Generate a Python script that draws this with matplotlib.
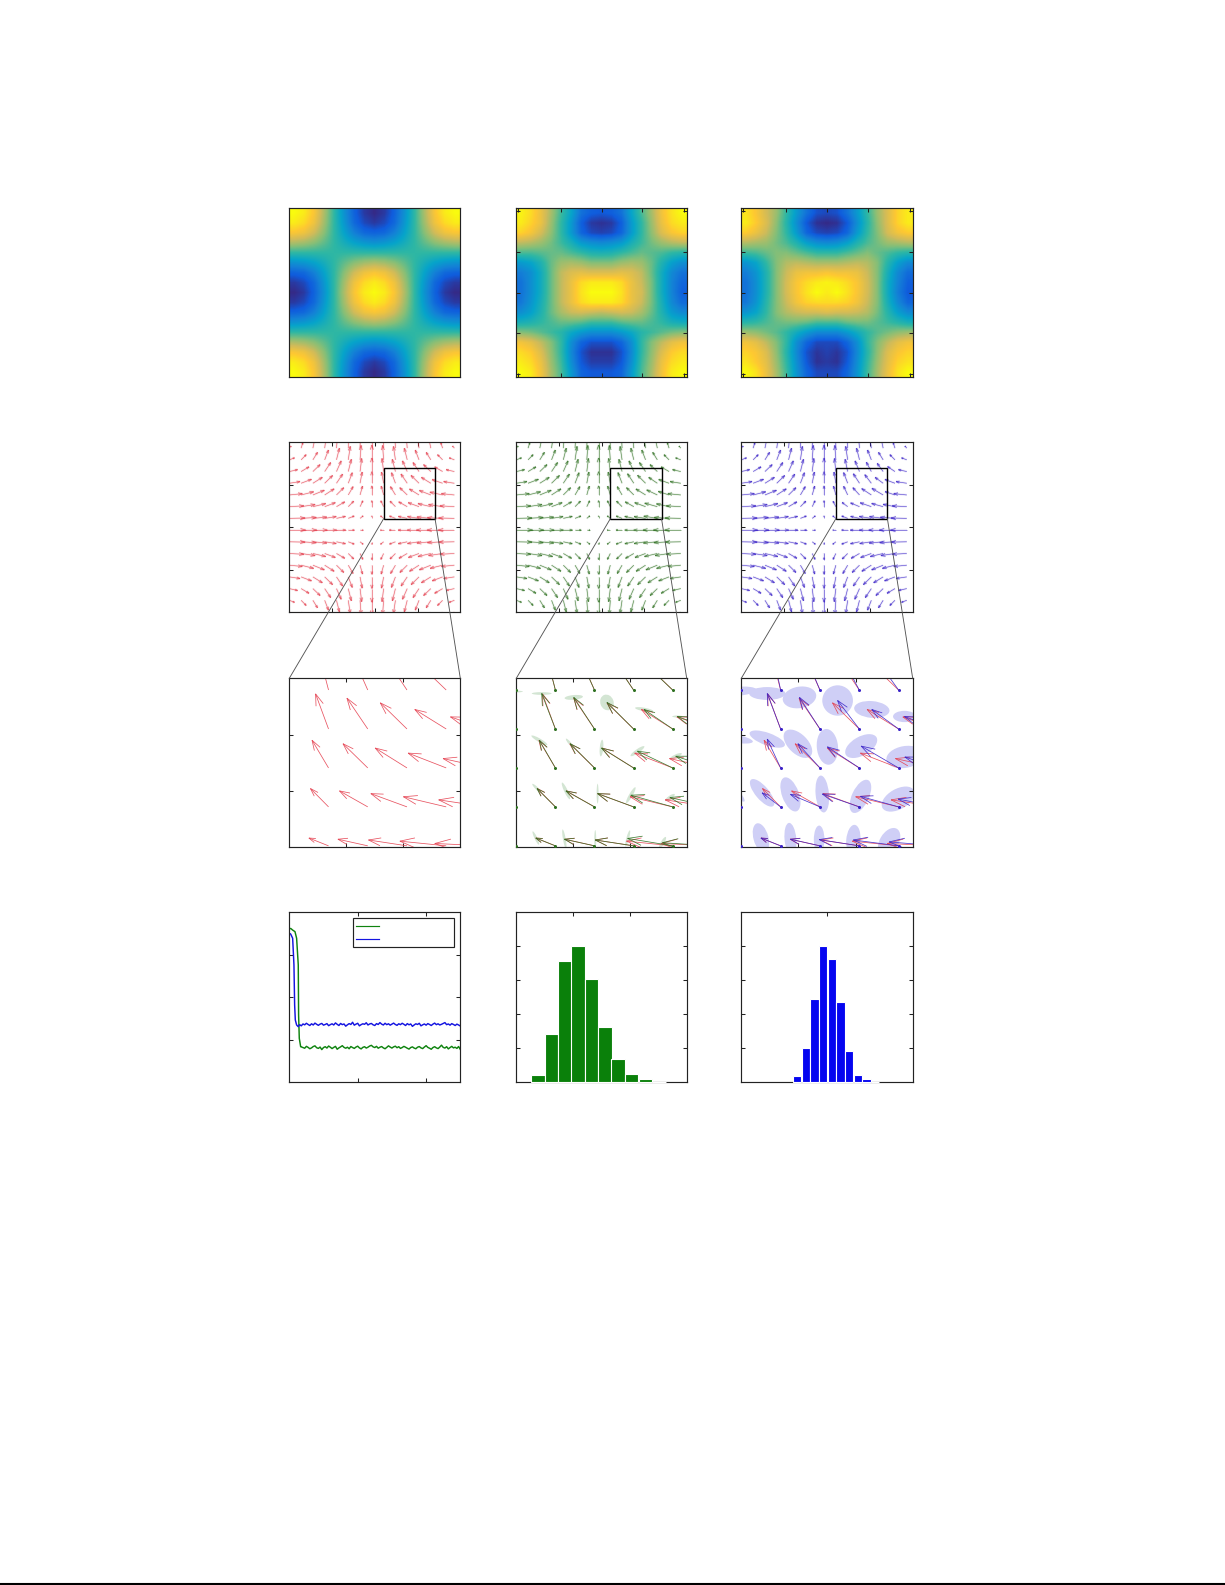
import matplotlib
matplotlib.use("Agg")
import matplotlib.pyplot as plt
import numpy as np

from matplotlib.collections import LineCollection
from matplotlib.colors import LinearSegmentedColormap
from matplotlib.lines import Line2D
from matplotlib.patches import ConnectionPatch, Ellipse, Rectangle

# scalar maps, 0-100, top row first
map_true = [
    [100, 96, 86, 69, 50, 31, 15, 4, 0, 4, 15, 31, 50, 69, 86, 96, 100],
    [96, 92, 83, 67, 50, 33, 17, 8, 4, 8, 17, 33, 50, 67, 83, 92, 96],
    [86, 83, 75, 63, 50, 37, 25, 17, 15, 17, 25, 37, 50, 63, 75, 83, 86],
    [69, 67, 63, 57, 50, 43, 37, 33, 31, 33, 37, 43, 50, 57, 63, 67, 69],
    [50, 50, 50, 50, 50, 50, 50, 50, 50, 50, 50, 50, 50, 50, 50, 50, 50],
    [31, 33, 37, 43, 50, 57, 63, 67, 69, 67, 63, 57, 50, 43, 37, 33, 31],
    [15, 17, 25, 37, 50, 63, 75, 83, 86, 83, 75, 63, 50, 37, 25, 17, 15],
    [4, 8, 17, 33, 50, 67, 83, 92, 96, 92, 83, 67, 50, 33, 17, 8, 4],
    [0, 4, 15, 31, 50, 69, 86, 96, 100, 96, 86, 69, 50, 31, 15, 4, 0],
    [4, 8, 17, 33, 50, 67, 83, 92, 96, 92, 83, 67, 50, 33, 17, 8, 4],
    [15, 17, 25, 37, 50, 63, 75, 83, 86, 83, 75, 63, 50, 37, 25, 17, 15],
    [31, 33, 37, 43, 50, 57, 63, 67, 69, 67, 63, 57, 50, 43, 37, 33, 31],
    [50, 50, 50, 50, 50, 50, 50, 50, 50, 50, 50, 50, 50, 50, 50, 50, 50],
    [69, 67, 63, 57, 50, 43, 37, 33, 31, 33, 37, 43, 50, 57, 63, 67, 69],
    [86, 83, 75, 63, 50, 37, 25, 17, 15, 17, 25, 37, 50, 63, 75, 83, 86],
    [96, 92, 83, 67, 50, 33, 17, 8, 4, 8, 17, 33, 50, 67, 83, 92, 96],
    [100, 96, 86, 69, 50, 31, 15, 4, 0, 4, 15, 31, 50, 69, 86, 96, 100],
]
map_green = [
    [98, 92, 82, 68, 52, 38, 20, 14, 12, 14, 20, 38, 54, 68, 84, 94, 100],
    [96, 90, 82, 66, 50, 34, 14, 4, 2, 4, 14, 34, 50, 66, 82, 92, 96],
    [90, 85, 76, 64, 50, 34, 16, 8, 6, 8, 16, 34, 50, 64, 78, 86, 90],
    [72, 70, 66, 60, 52, 44, 34, 30, 28, 30, 34, 44, 52, 60, 66, 70, 72],
    [54, 54, 56, 58, 58, 54, 50, 46, 45, 46, 50, 54, 58, 56, 54, 50, 48],
    [34, 38, 46, 58, 66, 68, 66, 62, 62, 62, 66, 68, 66, 58, 46, 36, 30],
    [24, 30, 42, 58, 72, 78, 80, 78, 78, 78, 80, 78, 72, 58, 42, 28, 20],
    [20, 30, 42, 58, 72, 82, 92, 96, 96, 96, 92, 82, 74, 60, 42, 26, 16],
    [20, 30, 42, 58, 72, 82, 94, 100, 100, 100, 94, 82, 76, 60, 42, 26, 14],
    [22, 32, 44, 58, 72, 82, 92, 96, 96, 96, 92, 82, 74, 60, 44, 28, 18],
    [30, 36, 46, 58, 68, 74, 76, 74, 72, 74, 76, 74, 68, 58, 46, 34, 28],
    [44, 46, 50, 54, 58, 58, 56, 52, 52, 52, 56, 58, 58, 54, 50, 44, 42],
    [62, 60, 56, 52, 48, 40, 34, 30, 30, 30, 34, 40, 48, 52, 56, 60, 62],
    [84, 80, 72, 62, 50, 30, 16, 10, 10, 10, 16, 30, 50, 62, 72, 80, 84],
    [92, 88, 78, 64, 50, 28, 10, 2, 2, 2, 10, 28, 50, 64, 78, 88, 92],
    [96, 92, 82, 66, 52, 30, 12, 5, 5, 5, 12, 30, 52, 66, 82, 92, 96],
    [100, 96, 84, 68, 54, 34, 16, 12, 12, 12, 16, 34, 54, 68, 84, 96, 100],
]
map_blue = [
    [94, 86, 76, 66, 50, 34, 20, 10, 8, 10, 20, 34, 50, 66, 78, 90, 96],
    [96, 88, 78, 64, 48, 30, 12, 2, 0, 2, 12, 30, 48, 64, 78, 90, 96],
    [88, 82, 74, 62, 50, 34, 16, 8, 6, 8, 16, 34, 50, 62, 76, 84, 88],
    [70, 68, 66, 60, 54, 46, 36, 30, 28, 30, 36, 46, 54, 60, 66, 68, 70],
    [52, 54, 58, 62, 62, 58, 54, 50, 50, 50, 54, 58, 62, 58, 54, 50, 48],
    [32, 38, 50, 62, 70, 72, 70, 68, 68, 68, 70, 72, 70, 62, 48, 36, 28],
    [24, 32, 46, 62, 74, 82, 84, 84, 86, 84, 84, 82, 74, 62, 44, 28, 18],
    [20, 30, 46, 62, 76, 86, 92, 96, 98, 96, 92, 86, 76, 62, 42, 26, 14],
    [20, 30, 46, 62, 76, 86, 94, 100, 96, 100, 94, 86, 76, 62, 42, 24, 12],
    [22, 32, 48, 62, 74, 84, 90, 92, 92, 92, 90, 84, 74, 62, 44, 28, 16],
    [32, 38, 50, 62, 70, 74, 76, 76, 78, 76, 76, 74, 70, 60, 48, 36, 28],
    [48, 50, 54, 58, 60, 60, 58, 54, 54, 54, 58, 60, 60, 56, 52, 48, 44],
    [66, 64, 60, 56, 50, 42, 34, 28, 28, 28, 34, 42, 50, 56, 60, 64, 66],
    [84, 80, 72, 62, 50, 30, 16, 8, 8, 8, 16, 30, 50, 62, 72, 80, 84],
    [90, 86, 78, 64, 48, 28, 10, 3, 6, 3, 10, 28, 48, 64, 78, 86, 90],
    [94, 88, 80, 66, 50, 30, 12, 2, 4, 2, 12, 30, 50, 66, 80, 90, 94],
    [100, 94, 82, 68, 52, 32, 16, 8, 8, 8, 16, 32, 52, 68, 82, 94, 100],
]

# vector field on a 15x15 grid, y = 0 row first
red_u = [
    [.16, .15, .14, .12, .09, .06, .03, 0, -.03, -.06, -.09, -.12, -.14, -.15, -.16],
    [.44, .43, .39, .32, .25, .17, .09, 0, -.09, -.17, -.25, -.32, -.39, -.43, -.44],
    [.70, .67, .61, .51, .40, .26, .14, 0, -.14, -.26, -.40, -.51, -.61, -.67, -.70],
    [.91, .88, .80, .67, .52, .34, .18, 0, -.18, -.34, -.52, -.67, -.80, -.88, -.91],
    [1.10, 1.06, .97, .80, .62, .41, .21, 0, -.21, -.41, -.62, -.80, -.97, -1.06, -1.10],
    [1.23, 1.19, 1.09, .90, .70, .46, .24, 0, -.24, -.46, -.70, -.90, -1.09, -1.19, -1.23],
    [1.34, 1.29, 1.18, .98, .76, .50, .26, 0, -.26, -.50, -.76, -.98, -1.18, -1.29, -1.34],
    [1.38, 1.33, 1.22, 1.01, .78, .52, .27, 0, -.27, -.52, -.78, -1.01, -1.22, -1.33, -1.38],
    [1.34, 1.29, 1.18, .98, .76, .50, .26, 0, -.26, -.50, -.76, -.98, -1.18, -1.29, -1.34],
    [1.23, 1.19, 1.09, .90, .70, .46, .24, 0, -.24, -.46, -.72, -.92, -1.09, -1.19, -1.23],
    [1.10, 1.06, .97, .80, .62, .41, .21, 0, -.21, -.42, -.63, -.81, -.97, -1.08, -1.10],
    [.91, .88, .80, .67, .52, .34, .18, 0, -.18, -.33, -.53, -.68, -.80, -.89, -.91],
    [.70, .67, .61, .51, .40, .26, .14, 0, -.14, -.27, -.40, -.51, -.61, -.67, -.70],
    [.44, .43, .39, .32, .25, .17, .09, 0, -.09, -.17, -.25, -.32, -.39, -.43, -.44],
    [.16, .15, .14, .12, .09, .06, .03, 0, -.03, -.06, -.09, -.12, -.14, -.15, -.16],
]
red_v = [
    [-.18, -.46, -.67, -.88, -1.04, -1.20, -1.28, -1.32, -1.28, -1.20, -1.04, -.88, -.67, -.46, -.18],
    [-.17, -.44, -.64, -.84, -1.00, -1.15, -1.23, -1.27, -1.23, -1.15, -1.00, -.84, -.64, -.44, -.17],
    [-.16, -.40, -.59, -.77, -.91, -1.05, -1.12, -1.16, -1.12, -1.05, -.91, -.77, -.59, -.40, -.16],
    [-.14, -.34, -.50, -.66, -.78, -.90, -.96, -.99, -.96, -.90, -.78, -.66, -.50, -.34, -.14],
    [-.11, -.27, -.40, -.52, -.62, -.71, -.76, -.78, -.76, -.71, -.62, -.52, -.40, -.27, -.11],
    [-.07, -.18, -.26, -.34, -.41, -.47, -.50, -.52, -.50, -.47, -.41, -.34, -.26, -.18, -.07],
    [-.03, -.08, -.11, -.15, -.17, -.20, -.21, -.22, -.21, -.20, -.17, -.15, -.11, -.08, -.03],
    [0, 0, 0, 0, 0, 0, 0, 0, 0, 0, 0, 0, 0, 0, 0],
    [.03, .08, .11, .15, .17, .20, .21, .22, .21, .20, .17, .15, .12, .06, .03],
    [.07, .18, .26, .34, .41, .47, .50, .52, .50, .47, .41, .34, .26, .18, .07],
    [.11, .27, .40, .52, .62, .71, .76, .78, .76, .71, .62, .51, .38, .24, .11],
    [.14, .34, .50, .66, .78, .90, .96, .99, .96, .90, .79, .67, .50, .31, .14],
    [.16, .40, .59, .77, .91, 1.05, 1.12, 1.16, 1.12, 1.05, .91, .77, .59, .40, .16],
    [.17, .44, .64, .84, 1.00, 1.15, 1.23, 1.27, 1.23, 1.15, 1.00, .84, .64, .44, .17],
    [.18, .46, .67, .88, 1.04, 1.20, 1.28, 1.32, 1.28, 1.20, 1.04, .88, .67, .46, .18],
]

# estimates that differ from the true field, rows y = 8..12, columns x = 8..13
green_u_box = [
    [-.26, -.50, -.77, -.98, -1.15, -1.26],
    [-.24, -.47, -.73, -.92, -1.07, -1.07],
    [-.22, -.41, -.62, -.82, -.90, -.92],
    [-.18, -.35, -.53, -.68, -.73, -.88],
    [-.14, -.27, -.41, -.52, -.62, -.68],
]
green_v_box = [
    [.21, .20, .17, .15, .19, .08],
    [.50, .47, .41, .34, .30, .24],
    [.76, .71, .62, .51, .43, .30],
    [.96, .91, .81, .68, .50, .32],
    [1.12, 1.05, .91, .77, .59, .40],
]
blue_u_box = [
    [-.26, -.50, -.75, -1.02, -1.15, -1.24],
    [-.24, -.47, -.75, -.94, -.97, -1.01],
    [-.20, -.34, -.56, -.81, -.95, -.84],
    [-.16, -.34, -.52, -.55, -.68, -.85],
    [-.12, -.22, -.38, -.42, -.50, -.62],
]
blue_v_box = [
    [.21, .20, .17, .16, .15, .10],
    [.46, .36, .32, .33, .27, .20],
    [.76, .74, .62, .54, .56, .28],
    [.96, .91, .81, .73, .50, .32],
    [1.12, 1.05, .91, .80, .70, .42],
]

# uncertainty ellipses at the arrow heads, rows y = 8..11, columns x = 8..13
green_w = [
    [.40, .38, .51, .51, .43, .34],
    [.40, .34, .47, .51, .47, .30],
    [.50, .47, .34, .43, .43, .34],
    [.70, .51, .47, .34, .47, .26],
]
green_h = [
    [.05, .07, .07, .05, .07, .09],
    [.04, .07, .09, .05, .09, .09],
    [.05, .09, .07, .09, .10, .09],
    [.06, .07, .12, .41, .09, .05],
]
green_angle = [
    [-60, -65, -80, 90, 75, 60],
    [-40, -45, -65, 90, 60, 35],
    [-10, -30, -50, 85, 35, 25],
    [0, 0, 5, 20, -10, 0],
]
blue_w = [
    [.80, .78, .84, .72, .78, .78],
    [.90, .88, .92, .95, .92, .92],
    [1.00, .95, .90, .92, .90, .95],
    [1.10, .92, .86, .78, .90, .58],
]
blue_h = [
    [.28, .38, .30, .27, .36, .48],
    [.19, .34, .43, .34, .43, .52],
    [.21, .32, .50, .54, .48, .56],
    [.24, .33, .55, .78, .43, .29],
]
blue_angle = [
    [-70, -75, -85, 90, 85, 60],
    [-45, -50, -70, -85, 65, 30],
    [-10, -20, -45, -85, 30, 10],
    [5, 0, 10, 0, -5, 0],
]

# error curves
green_iter_start = [0, 20, 50, 83, 107, 131, 136, 146, 166]
green_err_start = [.902, .905, .895, .886, .847, .69, .395, .257, .208]
blue_iter_start = [0, 20, 49, 68, 78, 88, 107, 131, 150]
blue_err_start = [.876, .872, .847, .69, .454, .365, .336, .326, .338]
green_err = [
    .207, .203, .199, .210, .204, .196, .201, .209, .213, .202, .198, .206, .191, .203, .208, .200,
    .212, .205, .197, .204, .210, .193, .201, .207, .214, .204, .199, .205, .196, .209, .203, .198,
    .206, .211, .201, .195, .204, .208, .200, .205, .212, .216, .207, .203, .210, .199, .205, .209,
    .201, .196, .204, .213, .206, .200, .207, .211, .202, .208, .198, .203, .210, .205, .199, .194,
    .203, .207, .200, .196, .205, .209, .201, .197, .206, .214, .204, .199, .193, .203, .208, .201,
    .197, .206, .217, .204, .200, .208, .195, .203, .210, .201, .205, .198, .209, .192,
]
blue_err = [
    .331, .342, .337, .346, .339, .333, .343, .336, .347, .340, .334, .341, .345, .335, .339, .344,
    .332, .338, .343, .336, .348, .340, .333, .345, .338, .342, .329, .337, .344, .339, .352, .335,
    .341, .346, .331, .338, .343, .340, .349, .336, .342, .345, .337, .333, .344, .339, .350, .341,
    .336, .346, .338, .343, .335, .341, .347, .339, .334, .343, .338, .346, .340, .333, .344, .337,
    .342, .328, .336, .343, .339, .346, .331, .337, .342, .335, .344, .339, .333, .341, .347, .338,
    .343, .336, .340, .345, .350, .338, .342, .335, .344, .339, .333, .341, .336, .330,
]

# histograms
green_hist_x = [-.310, -.191, -.071, .044, .162, .282, .397, .516, .638, .756]
green_hist_y = [.040, .281, .715, .802, .605, .324, .136, .047, .016, 0]
blue_hist_x = [-.350, -.245, -.146, -.047, .058, .158, .257, .362, .461, .560]
blue_hist_y = [.035, .198, .489, .802, .725, .472, .183, .041, .018, 0]

parula_colors = ["#352a87", "#0f5cdd", "#1481d6", "#06a4ca", "#2eb7a4",
                 "#87bf77", "#d1bb59", "#fec832", "#f9fb0e"]
parula = LinearSegmentedColormap.from_list("parula", parula_colors)

WIDTH, HEIGHT = 1225, 1585
COLS = [(289.3, 460.3), (516.3, 686.7), (741.3, 912.7)]
ROWS = [(208, 377), (442.3, 612), (678.3, 847), (912.3, 1082)]
GRID_LIM = (0, 14.5)
BOX_X = (8, 12.36)
BOX_Y = (7.97, 12.3)
SPINE = "#222222"

RED = "#e5404f"
GREEN = "#2e7020"
BLUE = "#3a22c8"

fig = plt.figure(figsize=(WIDTH / 100, HEIGHT / 100), dpi=100, facecolor="white")


def make_axes(col, row):
    left, right = COLS[col]
    top, bottom = ROWS[row]
    ax = fig.add_axes([left / WIDTH, 1 - bottom / HEIGHT, (right - left) / WIDTH, (bottom - top) / HEIGHT])
    for spine in ax.spines.values():
        spine.set_linewidth(0.85)
        spine.set_color(SPINE)
    ax.tick_params(which="both", direction="in", length=2.9, width=0.75, color=SPINE, top=True, right=True,
                   labelbottom=False, labelleft=False)
    return ax


def set_frac_ticks(ax, xfrac, yfrac):
    x0, x1 = ax.get_xlim()
    y0, y1 = ax.get_ylim()
    ax.set_xticks([x0 + f * (x1 - x0) for f in xfrac])
    ax.set_yticks([y0 + f * (y1 - y0) for f in yfrac])


def draw_arrows(ax, u, v, color, lw, alpha=1.0, halo=False):
    u = np.asarray(u)
    v = np.asarray(v)
    yy, xx = np.mgrid[0:u.shape[0], 0:u.shape[1]]
    segs = []
    for x, y, du, dv in zip(xx.ravel(), yy.ravel(), u.ravel(), v.ravel()):
        hx, hy = x + du, y + dv
        ang = np.arctan2(dv, du)
        size = 0.33 * np.hypot(du, dv)
        segs.append([(x, y), (hx, hy)])
        for side in (-1, 1):
            a = ang + side * np.radians(18)
            segs.append([(hx, hy), (hx - size * np.cos(a), hy - size * np.sin(a))])
    if halo:
        # the scan smears the small arrows, a wide pale line gets close to it
        ax.add_collection(LineCollection(segs, colors=color, linewidths=1.6, alpha=0.1, zorder=2))
    ax.add_collection(LineCollection(segs, colors=color, linewidths=lw, alpha=alpha, zorder=2))


def full_estimate(u_box, v_box):
    u = np.array(red_u)
    v = np.array(red_v)
    u[8:13, 8:14] = u_box
    v[8:13, 8:14] = v_box
    return u, v


def draw_ellipses(ax, u, v, w, h, angle, color):
    for j in range(4):
        for i in range(6):
            x = 8 + i
            y = 8 + j
            ax.add_patch(Ellipse((x + u[y][x], y + v[y][x]), w[j][i], h[j][i], angle=angle[j][i],
                                 facecolor=color, edgecolor="none", zorder=1))


# top row, scalar maps
for col, values in enumerate([map_true, map_green, map_blue]):
    ax = make_axes(col, 0)
    ax.imshow(values, cmap=parula, vmin=0, vmax=100, interpolation="bilinear", aspect="auto", extent=(0, 1, 0, 1))
    if col == 0:
        ax.set_xticks([])
        ax.set_yticks([])
    else:
        ax.set_xticks([.01, .26, .5, .74, .985])
        ax.set_yticks([.015, .26, .5, .74, .985])

# second and third rows, vector fields and zooms
estimates = [None, full_estimate(green_u_box, green_v_box), full_estimate(blue_u_box, blue_v_box)]
arrow_colors = [RED, GREEN, BLUE]
ellipse_sets = [None, (green_w, green_h, green_angle, "#d3e5d3"), (blue_w, blue_h, blue_angle, "#cfcff6")]

for col in range(3):
    ax = make_axes(col, 1)
    ax.set_xlim(*GRID_LIM)
    ax.set_ylim(*GRID_LIM)
    set_frac_ticks(ax, [.25, .5, .75], [.25, .5, .75])
    u, v = (red_u, red_v) if estimates[col] is None else estimates[col]
    draw_arrows(ax, u, v, arrow_colors[col], 0.45, alpha=0.8, halo=True)
    ax.add_patch(Rectangle((BOX_X[0], BOX_Y[0]), BOX_X[1] - BOX_X[0], BOX_Y[1] - BOX_Y[0],
                           fill=False, edgecolor="black", linewidth=1.0, zorder=4))

    zoom = make_axes(col, 2)
    zoom.set_xlim(*BOX_X)
    zoom.set_ylim(*BOX_Y)
    set_frac_ticks(zoom, [1 / 3, 2 / 3], [1 / 3, 2 / 3])
    if estimates[col] is not None:
        w, h, angle, shade = ellipse_sets[col]
        draw_ellipses(zoom, u, v, w, h, angle, shade)
    draw_arrows(zoom, red_u, red_v, RED, 0.55, alpha=0.9)
    if estimates[col] is not None:
        draw_arrows(zoom, u, v, arrow_colors[col], 0.55, alpha=0.9)
        yy, xx = np.mgrid[0:15, 0:15]
        zoom.plot(xx.ravel(), yy.ravel(), "o", color=arrow_colors[col], markersize=2.2, mec="none", zorder=3)

    for frac_x, corner_x in [(0, BOX_X[0]), (1, BOX_X[1])]:
        fig.add_artist(ConnectionPatch((corner_x, BOX_Y[0]), (frac_x, 1), coordsA=ax.transData,
                                       coordsB=zoom.transAxes, color="#555555", linewidth=0.65, zorder=5))

# bottom row, error curves
ax = make_axes(0, 3)
ax.set_xlim(0, 2500)
ax.set_ylim(0, 1)
ax.set_xticks([1000, 2000])
ax.set_yticks([.25, .5, .75])
tail_iter = np.arange(175, 2501, 25)
ax.plot(green_iter_start + list(tail_iter), green_err_start + green_err, color="#0f830f", lw=1.05)
ax.plot(blue_iter_start + list(tail_iter), blue_err_start + blue_err, color="#1414e0", lw=1.05)
ax.add_patch(Rectangle((.3715, .7935), .5926, .1706, transform=ax.transAxes, facecolor="white",
                       edgecolor=SPINE, linewidth=0.85, zorder=4))
ax.plot([.3918, .5263], [.9205, .9205], transform=ax.transAxes, color="#0f830f", lw=0.85, zorder=5)
ax.plot([.3918, .5263], [.8455, .8455], transform=ax.transAxes, color="#1414e0", lw=0.85, zorder=5)

# bottom row, histograms
for col, hist_x, hist_y, width, xlim, xticks, color in [
    (1, green_hist_x, green_hist_y, .1185, (-.5, 1), [0, .5], "#0a800a"),
    (2, blue_hist_x, blue_hist_y, .102, (-1, 1), [0], "#0505f0"),
]:
    ax = make_axes(col, 3)
    ax.set_xlim(*xlim)
    ax.set_ylim(0, 1)
    ax.set_xticks(xticks)
    ax.set_yticks([.2, .4, .6, .8])
    ax.bar(hist_x, hist_y, width=width, color=color, edgecolor="white", linewidth=0.8, zorder=3, clip_on=False)

# rule along the bottom of the page
fig.add_artist(Line2D([0, 1], [1 - 1584 / HEIGHT] * 2, transform=fig.transFigure, color="black", linewidth=1.5))

fig.savefig("out.png", dpi=100)
